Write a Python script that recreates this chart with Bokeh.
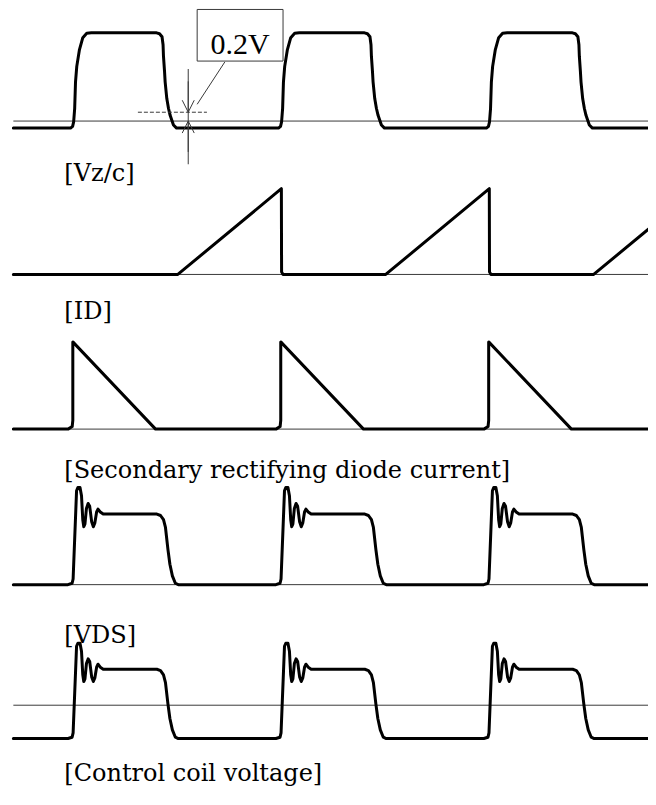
from bokeh.plotting import figure
from bokeh.models import Range1d, Label, Arrow, OpenHead
from bokeh.core.properties import value
from bokeh.embed import file_html
from bokeh.resources import INLINE

# ---------------- data (time axis: one switching period = 100 units) ----------------
CYCLE_STARTS = [0.0, 100.0, 200.0]
T_START = -28.5
T_END = 285.0

# Vz/c waveform for one cycle (time offset, volts)
VZC_DT = [-1.0, 0.0, 0.5, 1.0, 1.4, 2.0, 3.3, 4.9, 6.8, 9.0,
          40.4, 41.8, 43.0, 43.5, 43.7, 44.2, 44.5, 45.3, 46.1, 46.9, 48.5, 50.0]
VZC_V = [-0.16, -0.12, -0.02, 0.29, 0.89, 1.24, 1.62, 1.89, 1.99, 2.0,
         2.0, 1.98, 1.91, 1.73, 1.47, 1.13, 0.89, 0.51, 0.29, 0.13, -0.09, -0.16]
VZC_LOW = -0.16
MARK_LEVEL = 0.2          # the "0.2V" threshold
MARK_TEXT = "0.2V"

# Drain current ID (normalised)
ID_DT = [50.6, 100.4, 100.5, 101.2]
ID_VAL = [0.0, 1.0, 0.03, 0.0]

# Secondary rectifying diode current (normalised)
SEC_DT = [-2.2, -0.2, 0.1, 0.1, 39.9]
SEC_VAL = [0.0, 0.03, 0.1, 1.0, 0.0]

# VDS (normalised to plateau) and control coil voltage share the same timing
VDS_DT = [-2.23, -0.24, 0.24, 1.90, 2.52, 3.56, 4.28, 4.89, 5.37, 5.94, 6.65, 7.46,
          8.22, 9.17, 9.98, 10.69, 11.54, 12.21, 13.30, 14.73, 40.52, 42.28, 43.71,
          44.66, 45.84, 46.79, 47.98, 49.41, 50.83]
VDS_VAL = [0.0, 0.02, 0.08, 1.33, 1.375, 1.375, 1.26, 0.92, 0.82, 0.86, 1.08, 1.15,
           1.11, 0.89, 0.82, 0.875, 1.03, 1.07, 1.03, 1.0, 1.0, 0.98, 0.92,
           0.81, 0.5, 0.29, 0.125, 0.02, 0.0]
CTRL_VAL = [-1.0, -0.96, -0.83, 1.77, 1.86, 1.86, 1.62, 0.91, 0.71, 0.79, 1.25, 1.39,
            1.31, 0.85, 0.71, 0.82, 1.14, 1.23, 1.14, 1.08, 1.08, 1.04, 0.91,
            0.68, 0.04, -0.40, -0.74, -0.96, -1.0]
CTRL_LOW = -1.0

LABELS = ["[Vz/c]", "[ID]", "[Secondary rectifying diode current]", "[VDS]",
          "[Control coil voltage]"]

# ---------------- layout ----------------
W, H = 648, 789
REF_W, REF_H = 656.0, 805.0     # drawing space the panels are laid out in
PX_PER_T = 2.105
T_ORIGIN_PX = 73.0
# panel: (zero line position from top, px per unit), in drawing space
PANELS = {
    "vzc": (123.0, 45.0),
    "id": (279.5, 87.5),
    "sec": (437.3, 89.0),
    "vds": (596.0, 72.0),
    "ctrl": (719.0, 34.0),
}
LABEL_Y = {"vzc": -1.178, "id": -0.429, "sec": -0.472, "vds": -0.718, "ctrl": -2.03}
LABEL_T = -4.0
LABEL_FONT = "DejaVu Serif"
MARK_FONT = "Liberation Serif"
THIN = "#3a3a3a"


def yrange(name):
    z, s = PANELS[name]
    return Range1d(start=(z - REF_H) / s, end=z / s)


def build(dt, val, low):
    xs, ys = [T_START], [low]
    for c in CYCLE_STARTS:
        xs += [c + d for d in dt]
        ys += list(val)
    xs.append(T_END)
    ys.append(low)
    return xs, ys


p = figure(width=W, height=H, output_backend="svg", toolbar_location=None,
           x_range=Range1d(-T_ORIGIN_PX / PX_PER_T, (REF_W - T_ORIGIN_PX) / PX_PER_T),
           y_range=yrange("vzc"),
           x_axis_type=None, y_axis_type=None, min_border=0,
           outline_line_color=None, background_fill_color="white",
           border_fill_color="white")
p.extra_y_ranges = {k: yrange(k) for k in PANELS if k != "vzc"}

series = {
    "vzc": build(VZC_DT, VZC_V, VZC_LOW),
    "id": build(ID_DT, ID_VAL, 0.0),
    "sec": build(SEC_DT, SEC_VAL, 0.0),
    "vds": build(VDS_DT, VDS_VAL, 0.0),
    "ctrl": build(VDS_DT, CTRL_VAL, CTRL_LOW),
}

for name in PANELS:
    rn = "default" if name == "vzc" else name
    p.line([T_START, T_END], [0, 0], y_range_name=rn, line_color=THIN, line_width=1)
    xs, ys = series[name]
    p.line(xs, ys, y_range_name=rn, line_color="black", line_width=3,
           line_join="round", line_cap="round")

for name, text in zip(PANELS, LABELS):
    rn = "default" if name == "vzc" else name
    p.add_layout(Label(x=LABEL_T, y=LABEL_Y[name], y_range_name=rn, text=text,
                       text_font=LABEL_FONT, text_font_size="24px",
                       text_baseline="alphabetic", text_color="black"))

# ---- 0.2V annotation on the Vz/c trace ----
MARK_T = 55.6
p.line([31.4, 64.6], [MARK_LEVEL, MARK_LEVEL], line_color=THIN, line_width=1,
       line_dash="4 2")
p.line([MARK_T, MARK_T], [1.18, -0.98], line_color=THIN, line_width=1)
p.add_layout(Arrow(end=OpenHead(size=12, line_color=THIN, line_width=1),
                   x_start=MARK_T, y_start=0.9, x_end=MARK_T, y_end=MARK_LEVEL,
                   line_color=THIN, line_width=1))
p.add_layout(Arrow(end=OpenHead(size=12, line_color=THIN, line_width=1),
                   x_start=MARK_T, y_start=-0.7, x_end=MARK_T, y_end=0.0,
                   line_color=THIN, line_width=1))
p.quad(left=[59.9], right=[101.2], bottom=[1.36], top=[2.53], fill_color=None,
       line_color=THIN, line_width=1)
p.line([73.2, 59.9], [1.34, 0.38], line_color=THIN, line_width=1)
p.text(x=[80.5], y=[1.76], text=[MARK_TEXT], text_font=value(MARK_FONT),
       text_font_size="30px", text_align="center", text_baseline="alphabetic",
       text_color="black")

open("out.html", "w").write(file_html(p, INLINE))
